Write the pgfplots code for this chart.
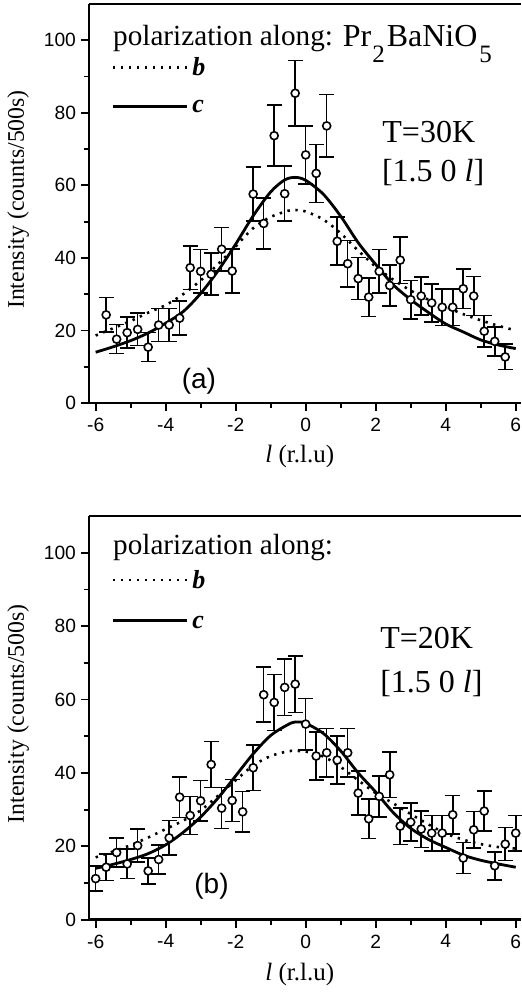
\documentclass[border=0pt]{standalone}
\usepackage{fontspec}
\setmainfont{Liberation Serif}
\setsansfont{Liberation Sans}
\usepackage{pgfplots}
\usepackage{pgfplotstable}
\pgfplotsset{compat=1.18}

% panel (a) data: l, intensity, error
\pgfplotstableread{
x y e
-5.7 24.3 4.8
-5.4 17.6 4.0
-5.1 19.4 4.3
-4.8 20.3 4.5
-4.5 15.4 4.0
-4.2 21.5 4.5
-3.9 21.5 4.5
-3.6 23.4 4.7
-3.3 37.3 6.0
-3.0 36.3 6.0
-2.7 35.5 5.8
-2.4 42.4 6.0
-2.1 36.4 6.0
-1.5 57.6 7.5
-1.2 49.5 7.0
-0.9 73.7 8.4
-0.6 57.7 7.6
-0.3 85.4 9.0
0.0 68.4 8.0
0.3 63.3 8.0
0.6 76.4 8.6
0.9 44.6 6.6
1.2 38.4 6.4
1.5 34.3 5.8
1.8 29.2 5.3
2.1 36.3 6.0
2.4 32.4 5.7
2.7 39.4 6.4
3.0 28.5 5.3
3.3 29.5 5.3
3.6 27.6 5.2
3.9 26.4 5.0
4.2 26.4 5.0
4.5 31.5 5.5
4.8 29.5 5.4
5.1 19.8 4.3
5.4 17.0 4.0
5.7 12.7 3.5
}\dataA

% panel (b) data
\pgfplotstableread{
x y e
-6.0 11.2 3.4
-5.7 14.3 3.6
-5.4 18.3 4.0
-5.1 15.2 4.0
-4.8 20.2 4.5
-4.5 13.3 3.5
-4.2 16.4 4.0
-3.9 22.3 4.7
-3.6 33.4 5.5
-3.3 28.4 5.2
-3.0 32.4 5.5
-2.7 42.3 6.3
-2.4 30.4 5.6
-2.1 32.5 5.7
-1.8 29.4 5.5
-1.5 41.4 6.2
-1.2 61.3 7.5
-0.9 59.2 7.6
-0.6 63.3 7.7
-0.3 64.2 7.7
0.0 53.3 7.0
0.3 44.6 6.5
0.6 45.5 6.6
0.9 43.5 6.5
1.2 45.5 6.6
1.5 34.5 6.0
1.8 27.5 5.4
2.1 33.6 5.6
2.4 39.5 6.2
2.7 25.5 5.0
3.0 26.6 5.2
3.3 24.7 5.0
3.6 23.6 4.8
3.9 23.6 4.8
4.2 28.6 5.3
4.5 16.8 4.2
4.8 24.5 5.0
5.1 29.6 5.4
5.4 14.7 3.8
5.7 20.6 4.5
6.0 23.6 4.8
}\dataB

\pgfplotsset{
  panel/.style={
    scale only axis, width=216pt,
    xmin=-6.19, xmax=6.15, ymin=0, ymax=110,
    axis x line*=box, axis y line*=left,
    xtick={-6,-4,...,6}, ytick={0,20,...,100},
    minor x tick num=1, minor y tick num=1,
    xtick pos=left, ytick pos=left,
    tick align=outside,
    major tick length=4pt, minor tick length=2.5pt,
    every tick/.style={black, line width=0.9pt},
    axis line style={line width=1.3pt},
    ticklabel style={font=\fontsize{9.6}{10}\sffamily},
    yticklabel style={xshift=1pt},
    /pgf/number format/assume math mode=true,
    xlabel={\textit{l} (r.l.u)},
    ylabel={Intensity (counts/500s)},
    xlabel style={font=\fontsize{12.5}{14}\selectfont, at={(axis description cs:0.488,-0.135)}, anchor=center},
    ylabel style={font=\fontsize{11.9}{14}\selectfont, at={(axis description cs:-0.164,0.51)}, anchor=center},
    clip=false,
  },
  fitc/.style={black, line width=1.4pt, smooth, no marks},
  fitb/.style={black, line width=1.3pt, dash pattern=on 1.2pt off 2.8pt, smooth, no marks},
  pts/.style={black, only marks, mark=*, mark size=2pt,
    mark options={draw=black, fill=white, line width=0.8pt},
    error bars/.cd, y dir=both, y explicit,
    error bar style={line width=0.8pt, black},
    error mark options={rotate=90, mark size=3.7pt, line width=0.8pt, black}},
}

\begin{document}
\begin{tikzpicture}
\useasboundingbox (0,0) rectangle (260.5pt,-496pt);

% ---------------- panel (a) ----------------
\begin{axis}[panel, at={(44.5pt,-201.5pt)}, anchor=south west, height=199.5pt]
\addplot[fitb] coordinates {
(-6,18.6) (-5.5,20.6) (-5,22.6) (-4.5,24.9) (-4,27.0) (-3.5,30.0) (-3,33.8)
(-2.5,38.3) (-2,43.2) (-1.5,48.2) (-1,51.3) (-0.5,53.0) (-0.3,53.2) (0,52.8)
(0.5,50.6) (1,46.8) (1.5,42.0) (2,37.6) (2.5,34.0) (3,31.0) (3.5,28.5)
(4,26.5) (4.5,24.5) (5,22.8) (5.5,21.3) (6,20.0)};
\addplot[fitc] coordinates {
(-6,14.0) (-5.5,15.5) (-5,17.2) (-4.5,19.3) (-4,22.0) (-3.5,25.2) (-3,30.2)
(-2.5,36.5) (-2,43.8) (-1.5,51.6) (-1,58.2) (-0.6,61.5) (-0.3,62.2) (0,61.4)
(0.5,57.6) (1,51.5) (1.5,44.2) (2,38.2) (2.5,32.6) (3,28.5) (3.5,25.0)
(4,21.8) (4.5,19.6) (5,17.4) (5.5,16.0) (6,15.0)};
\addplot[pts] table[x=x, y=y, y error=e] {\dataA};

\node[anchor=base west, font=\fontsize{14.6}{16}\selectfont, inner sep=0pt] at (axis cs:-5.51,98.6) {polarization along:};
\draw[black, line width=1.3pt, dash pattern=on 1.2pt off 2.8pt] (axis cs:-5.51,92.5) -- (axis cs:-3.39,92.5);
\node[anchor=base west, font=\fontsize{13}{14}\selectfont, inner sep=0pt] at (axis cs:-3.25,90.4) {\textbf{\textit{b}}};
\draw[black, line width=1.4pt] (axis cs:-5.51,81.8) -- (axis cs:-3.39,81.8);
\node[anchor=base west, font=\fontsize{13}{14}\selectfont, inner sep=0pt] at (axis cs:-3.25,80.0) {\textbf{\textit{c}}};
\node[anchor=base west, font=\fontsize{16}{18}\selectfont, inner sep=0pt] at (axis cs:1.05,98.3)
  {Pr\kern0.5pt\raisebox{-8pt}{\fontsize{12.5}{13}\selectfont 2}\kern1pt BaNiO\kern1pt\raisebox{-8pt}{\fontsize{12.5}{13}\selectfont 5}};
\node[anchor=base west, font=\fontsize{16}{18}\selectfont, inner sep=0pt] at (axis cs:2.18,71.7) {T=30K};
\node[anchor=base west, font=\fontsize{16}{18}\selectfont, inner sep=0pt] at (axis cs:2.17,61.0) {[1.5 0 \textit{l}]};
\node[anchor=center, font=\fontsize{14}{16}\sffamily, inner sep=0pt] at (axis cs:-3.05,6.0) {(a)};
\end{axis}

% ---------------- panel (b) ----------------
\begin{axis}[panel, at={(44.5pt,-459.85pt)}, anchor=south west, height=201.85pt]
\addplot[fitb] coordinates {
(-6,17.0) (-5.5,18.6) (-5,20.3) (-4.5,22.4) (-4,24.7) (-3.5,27.0) (-3,29.8)
(-2.5,33.8) (-2,38.0) (-1.5,42.0) (-1,44.6) (-0.5,45.9) (-0.3,46.0) (0,45.8)
(0.5,44.5) (1,41.6) (1.5,38.0) (2,34.5) (2.5,31.7) (3,28.8) (3.5,26.0)
(4,23.5) (4.5,21.8) (5,20.6) (5.5,19.8) (6,19.4)};
\addplot[fitc] coordinates {
(-6,14.0) (-5.5,15.1) (-5,16.4) (-4.5,18.0) (-4,20.4) (-3.5,23.8) (-3,28.0)
(-2.5,33.2) (-2,39.2) (-1.5,45.2) (-1,50.2) (-0.5,53.2) (-0.28,53.9) (0,53.5)
(0.5,50.8) (1,46.0) (1.5,40.0) (2,34.8) (2.5,29.2) (3,24.9) (3.5,21.9)
(4,19.7) (4.5,17.6) (5,16.2) (5.5,15.2) (6,14.3)};
\addplot[pts] table[x=x, y=y, y error=e] {\dataB};

\node[anchor=base west, font=\fontsize{14.6}{16}\selectfont, inner sep=0pt] at (axis cs:-5.51,99.6) {polarization along:};
\draw[black, line width=1.3pt, dash pattern=on 1.2pt off 2.8pt] (axis cs:-5.51,92.6) -- (axis cs:-3.39,92.6);
\node[anchor=base west, font=\fontsize{13}{14}\selectfont, inner sep=0pt] at (axis cs:-3.25,90.2) {\textbf{\textit{b}}};
\draw[black, line width=1.4pt] (axis cs:-5.51,81.6) -- (axis cs:-3.39,81.6);
\node[anchor=base west, font=\fontsize{13}{14}\selectfont, inner sep=0pt] at (axis cs:-3.25,79.3) {\textbf{\textit{c}}};
\node[anchor=base west, font=\fontsize{16}{18}\selectfont, inner sep=0pt] at (axis cs:2.12,74.0) {T=20K};
\node[anchor=base west, font=\fontsize{16}{18}\selectfont, inner sep=0pt] at (axis cs:2.12,62.0) {[1.5 0 \textit{l}]};
\node[anchor=center, font=\fontsize{14}{16}\sffamily, inner sep=0pt] at (axis cs:-2.69,9.0) {(b)};
\end{axis}
\end{tikzpicture}
\end{document}
